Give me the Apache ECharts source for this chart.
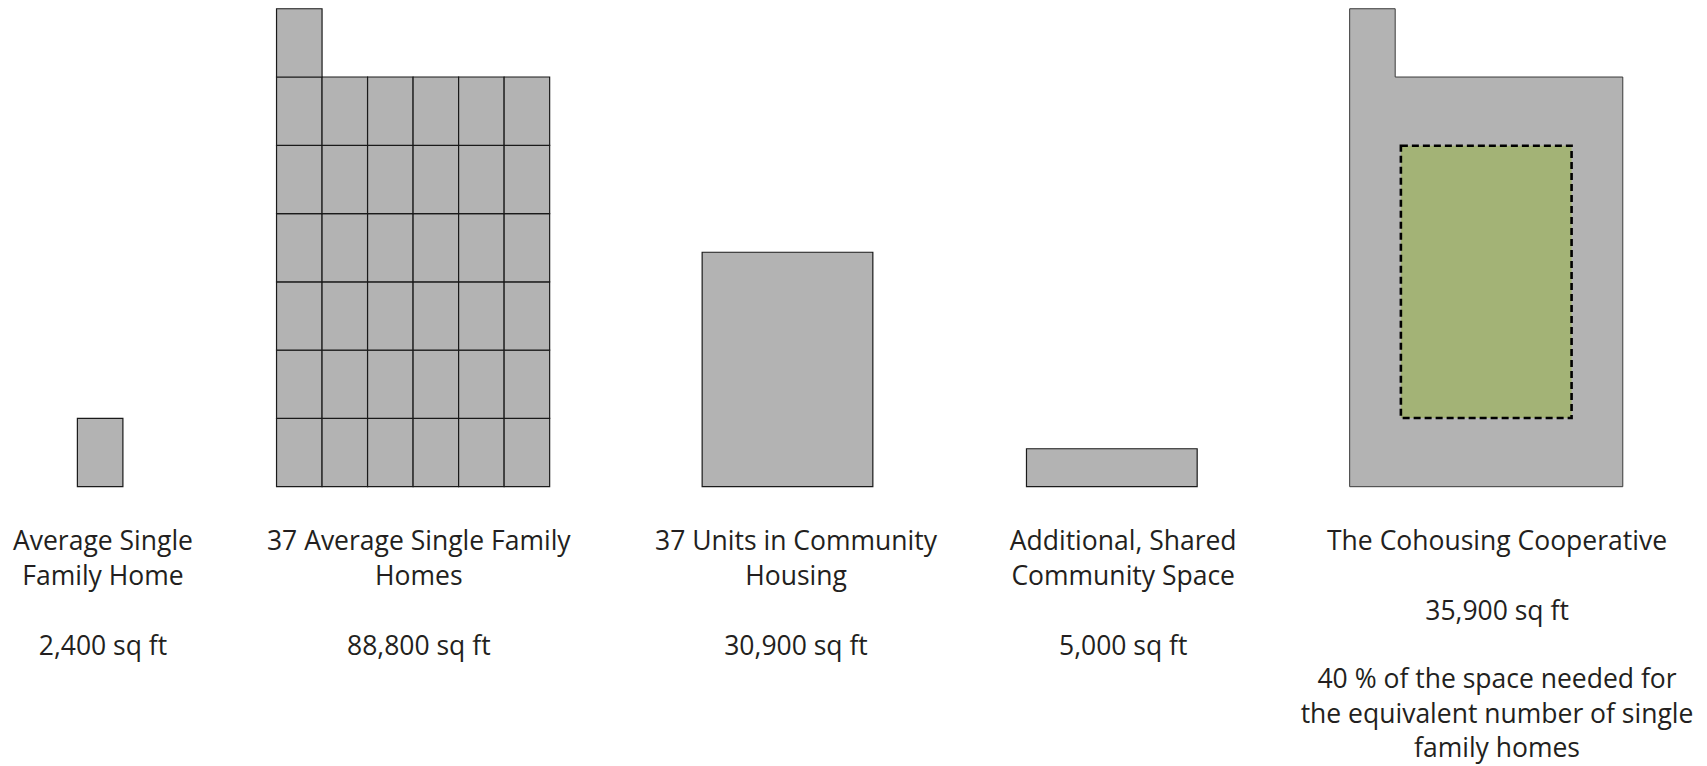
<!DOCTYPE html>
<html><head><meta charset="utf-8">
<script src="https://cdn.jsdelivr.net/npm/echarts@6/dist/echarts.min.js"></script>
<style>html,body{margin:0;padding:0;background:#fff}#c{width:1707px;height:766px}</style>
</head><body><div id="c"></div>
<script>
// ---- data ----
const categories = ['Average Single\nFamily Home', '37 Average Single Family\nHomes', '37 Units in Community\nHousing', 'Additional, Shared\nCommunity Space', 'The Cohousing Cooperative'];
const areaSqFt = [2400, 88800, 30900, 5000, 35900];
const homeCount = 37;
const homeFootprintFt = [40, 60];          // 40 ft x 60 ft = 2,400 sq ft
const sharedBuildingWidthFt = 150;        // community buildings drawn 150 ft wide
const noteText = '40 % of the space needed for\nthe equivalent number of single\nfamily homes';

// ---- layout (not data) ----
const panelLeftFt = [68, 243, 617, 902, 1186];
const labelCenterFt = [90.5, 368, 699.5, 987, 1315.5];
const gridCols = 6;
const FONT = '26.5px "Open Sans"';
const TXT = '#231f20';
const GRAY = '#b3b3b3';

function fmt(n){ return n.toLocaleString('en-US') + ' sq ft'; }

const chart = echarts.init(document.getElementById('c'), null, {renderer:'svg'});

function rectFt(api, x, y, w, h){
  const p0 = api.coord([x, y + h]);
  const p1 = api.coord([x + w, y]);
  return {x: p0[0], y: p0[1], width: p1[0] - p0[0], height: p1[1] - p0[1]};
}

function renderItem(params, api){
  const i = api.value(0);
  const left = panelLeftFt[i];
  const [hw, hd] = homeFootprintFt;
  const children = [];
  const cellStyle = {fill: GRAY, stroke: '#1a1a1a', lineWidth: 1.2};
  if (i === 0){
    children.push({type:'rect', shape: rectFt(api, left, 0, hw, areaSqFt[0] / hw), style: cellStyle});
  } else if (i === 1){
    const n = Math.round(areaSqFt[1] / (hw*hd));
    for (let k = 0; k < n; k++){
      const col = k % gridCols, row = Math.floor(k / gridCols);
      children.push({type:'rect', shape: rectFt(api, left + col*hw, row*hd, hw, hd), style: cellStyle});
    }
  } else if (i === 2 || i === 3){
    children.push({type:'rect', shape: rectFt(api, left, 0, sharedBuildingWidthFt, areaSqFt[i] / sharedBuildingWidthFt), style: cellStyle});
  } else if (i === 4){
    const rows = Math.floor(homeCount / gridCols);
    const W = gridCols*hw, H = rows*hd;
    const pts = [[left,0],[left+W,0],[left+W,H],[left+hw,H],[left+hw,H+hd],[left,H+hd]].map(p => api.coord(p));
    children.push({type:'polygon', shape:{points: pts}, style:{fill: GRAY, stroke:'#3a3a3a', lineWidth:1}});
    const gh = areaSqFt[4] / sharedBuildingWidthFt;
    children.push({type:'rect', shape: rectFt(api, left + (W - sharedBuildingWidthFt)/2, (H - gh)/2, sharedBuildingWidthFt, gh),
      style:{fill:'#a3b376', stroke:'#000', lineWidth:2.6, lineDash:[7,4]}});
  }
  // labels
  const base = api.coord([labelCenterFt[i], 0]);
  const cx = base[0], by = base[1];
  const lines = categories[i].split('\n');
  const lineOffsets = [53.5, 88];
  lines.forEach((t, j) => children.push({type:'text', style:{text:t, x:cx, y:by + lineOffsets[j], fill:TXT, font:FONT, textAlign:'center', textVerticalAlign:'middle'}}));
  if (i === 4){
    children.push({type:'text', style:{text: fmt(areaSqFt[i]), x:cx, y:by + 123, fill:TXT, font:FONT, textAlign:'center', textVerticalAlign:'middle'}});
    noteText.split('\n').forEach((t, j) => children.push({type:'text', style:{text:t, x:cx, y:by + 191.5 + j*34.3, fill:TXT, font:FONT, textAlign:'center', textVerticalAlign:'middle'}}));
  } else {
    children.push({type:'text', style:{text: fmt(areaSqFt[i]), x:cx, y:by + 158.5, fill:TXT, font:FONT, textAlign:'center', textVerticalAlign:'middle'}});
  }
  return {type:'group', children};
}

chart.setOption({
  animation: false,
  grid: {left: 0, right: 0, top: 3.05, bottom: 279.3},
  xAxis: {type:'value', min:0, max:1500, show:false},
  yAxis: {type:'value', min:0, max:425, show:false},
  series: [{
    type:'custom', clip:false, renderItem,
    encode: {x: 1, y: 2},
    data: categories.map((c, i) => [i, panelLeftFt[i], 0])
  }]
});
</script></body></html>
